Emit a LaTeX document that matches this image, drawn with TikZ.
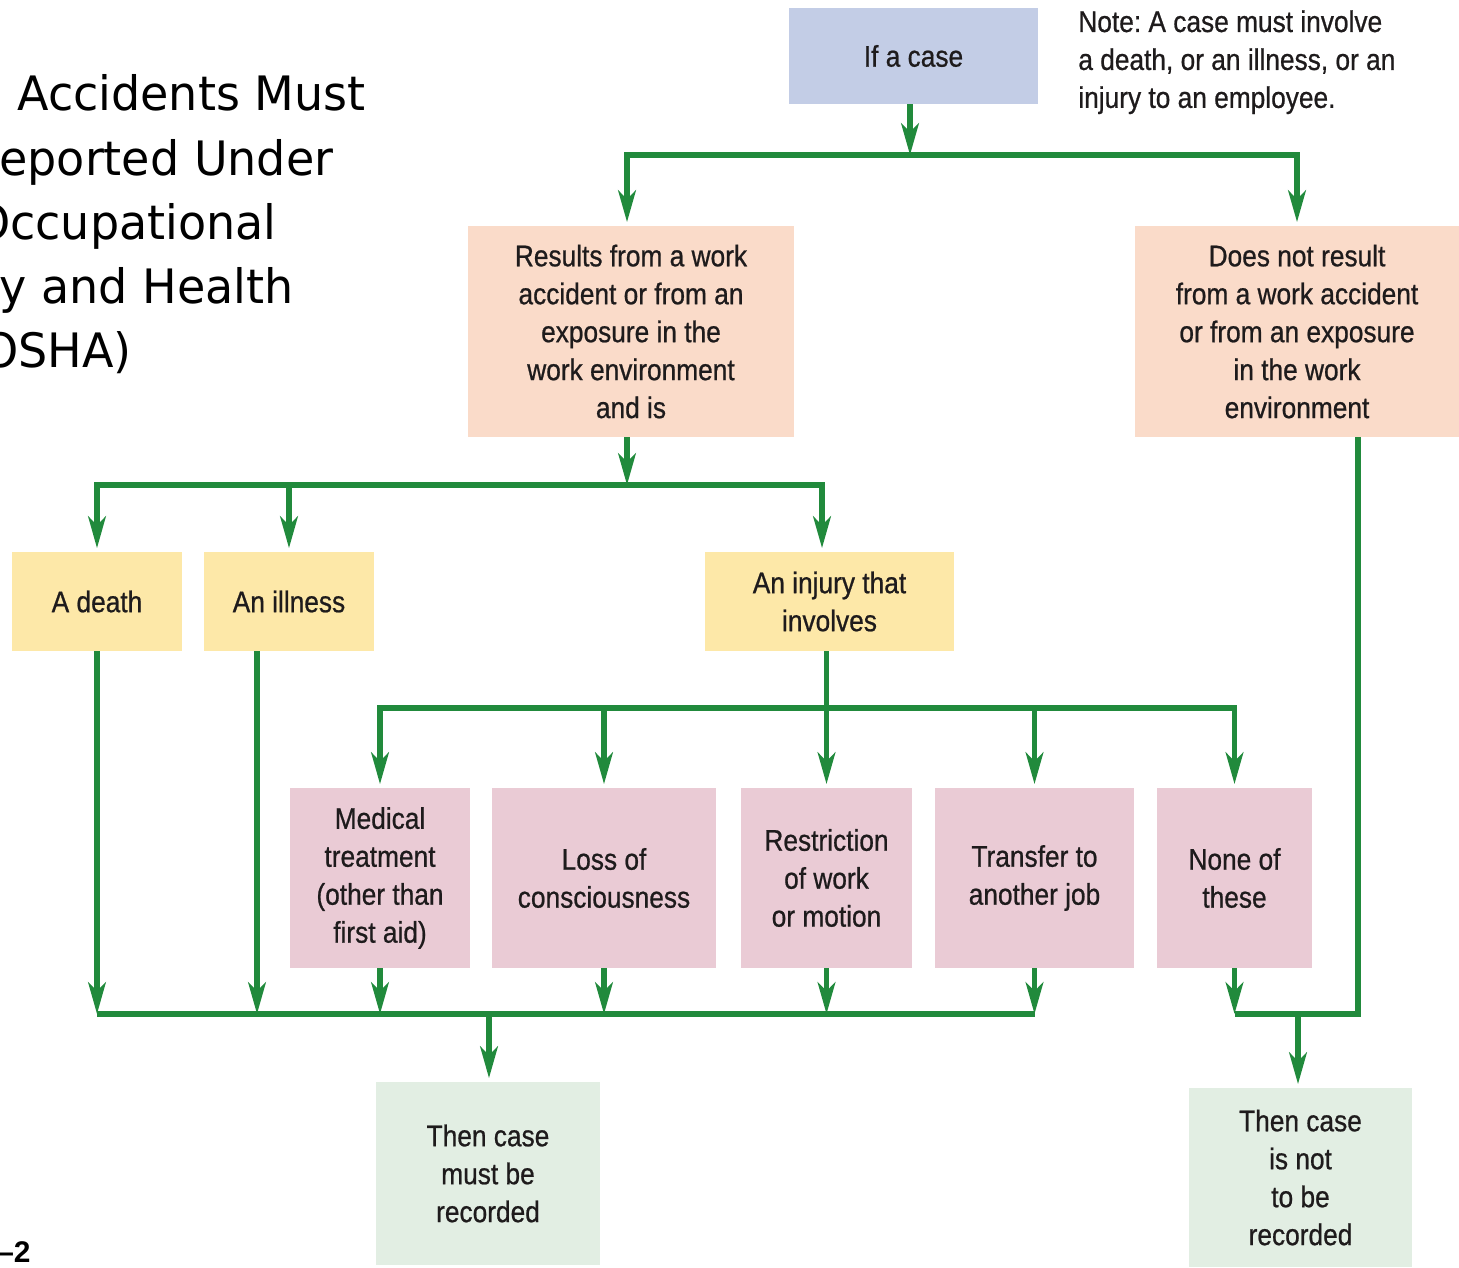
\documentclass[tikz,border=0pt]{standalone}
\usepackage{fontspec}
\setmainfont{Liberation Sans}
\newfontfamily\boxfont[FakeStretch=0.88, FakeBold=0.7]{Liberation Sans}
\newfontfamily\titlefont[FakeStretch=0.97]{DejaVu Sans}
\usetikzlibrary{arrows.meta}
\definecolor{flowgreen}{HTML}{218A3C}
\definecolor{caseblue}{HTML}{C3CDE6}
\definecolor{resultpeach}{HTML}{FADBC9}
\definecolor{kindyellow}{HTML}{FDE8A8}
\definecolor{injurypink}{HTML}{EACBD5}
\definecolor{recordgreen}{HTML}{E2EEE3}
\definecolor{inkgrey}{HTML}{1E1B1C}

\begin{document}
\begin{tikzpicture}[x=0.02cm, y=-0.02cm,
        box/.style={rectangle, inner sep=0pt, align=center, text=inkgrey,
          font=\boxfont\fontsize{17}{21.6}\selectfont},
        casebox/.style={box, fill=caseblue, minimum height=1.92cm},
        resultbox/.style={box, fill=resultpeach, minimum height=4.22cm},
        kindbox/.style={box, fill=kindyellow, minimum height=1.98cm},
        injbox/.style={box, fill=injurypink, minimum height=3.6cm},
        recbox/.style={box, fill=recordgreen},
        notetext/.style={inner sep=0pt, align=left, text=inkgrey,
          font=\boxfont\fontsize{17}{21.6}\selectfont\frenchspacing},
        titletext/.style={inner sep=0pt, anchor=base west, text=black,
          font=\titlefont\fontsize{27}{32}\selectfont},
        line/.style={draw=flowgreen, line width=3.1pt},
        arr/.style={line, -{Stealth[length=18pt, width=10pt, inset=5pt]}},
        boxarr/.style={arr, shorten >=2pt},
      ]

      \useasboundingbox (0,0) rectangle (1459,1267);
      \clip (0,0) rectangle (1459,1267);

      % Title (cut off at the left edge)
      \node[titletext] (t1) at (17,111) {Accidents Must};
      \node[titletext] (t2) at (-1,175) {eported Under};
      \node[titletext] (t3) at (10,239) {\llap{O}ccupational};
      \node[titletext] (t4) at (-1,303) {y and Health};
      \node[titletext] (t5) at (18,367) {\llap{O}SHA)};
      \node[inner sep=0pt, anchor=base west, font=\bfseries\fontsize{17}{20}\selectfont]
        (fig) at (-3,1262) {–2};

      % Top
      \node[casebox, minimum width=4.98cm] (ifcase) at (913.5,56) {If a case};
      \node[notetext, anchor=north west] (note) at (1078,10)
        {Note: A case must involve\\a death, or an illness, or an\\injury to an employee.};

      % Work related or not
      \node[resultbox, minimum width=6.52cm] (workres) at (631,331.5)
        {Results from a work\\accident or from an\\exposure in the\\work environment\\and is};
      \node[resultbox, minimum width=6.48cm] (notwork) at (1297,331.5)
        {Does not result\\from a work accident\\or from an exposure\\in the work\\environment};

      % Kind of case
      \node[kindbox, minimum width=3.4cm] (death) at (97,601.5) {A death};
      \node[kindbox, minimum width=3.4cm] (illness) at (289,601.5) {An illness};
      \node[kindbox, minimum width=4.98cm] (injury) at (829.5,601.5) {An injury that\\involves};

      % What the injury involves
      \node[injbox, minimum width=3.6cm] (medical) at (380,878)
        {Medical\\treatment\\(other than\\first aid)};
      \node[injbox, minimum width=4.48cm] (loss) at (604,878) {Loss of\\consciousness};
      \node[injbox, minimum width=3.42cm] (restrict) at (826.5,878)
        {Restriction\\of work\\or motion};
      \node[injbox, minimum width=3.98cm] (transfer) at (1034.5,878) {Transfer to\\another job};
      \node[injbox, minimum width=3.1cm] (none) at (1234.5,878) {None of\\these};

      % Outcome
      \node[recbox, minimum width=4.48cm, minimum height=3.66cm] (must) at (488,1173.5)
        {Then case\\must be\\recorded};
      \node[recbox, minimum width=4.46cm, minimum height=3.58cm] (notrec) at (1300.5,1177.5)
        {Then case\\is not\\to be\\recorded};

      % Junctions
      \coordinate (bus1) at (910,155);
      \coordinate (bus2) at (627,485);
      \coordinate (bus3) at (827,708);
      \coordinate (bus4) at (489,1014);
      \coordinate (bus5) at (1298,1014);
      \coordinate (illfoot) at ([xshift=-0.64cm]illness.south);
      \coordinate (notfoot) at ([xshift=1.22cm]notwork.south);

      % Connectors
      \draw[arr] ([xshift=-0.07cm]ifcase.south) -- ([xshift=-0.07cm]ifcase.south |- bus1);
      \draw[boxarr] (bus1) -| ([xshift=-0.08cm]workres.north);
      \draw[boxarr] (bus1) -| (notwork);

      \draw[arr] (bus2 |- workres.south) -- (bus2);
      \draw[boxarr] (bus2) -| (death);
      \draw[boxarr] (bus2) -| (illness);
      \draw[boxarr] (bus2) -| ([xshift=-0.15cm]injury.north);

      \draw[boxarr] (injury.south -| restrict) -- (restrict);
      \draw[boxarr] (bus3) -| (medical);
      \draw[boxarr] (bus3) -| (loss);
      \draw[boxarr] (bus3) -| (transfer);
      \draw[boxarr] (bus3) -| (none);

      \draw[arr] (death) -- (death |- bus4);
      \draw[arr] (illfoot) -- (illfoot |- bus4);
      \draw[arr] (medical) -- (medical |- bus4);
      \draw[arr] (loss) -- (loss |- bus4);
      \draw[arr] (restrict) -- (restrict |- bus4);
      \draw[arr] (transfer) -- (transfer |- bus4);
      \draw[line] (death |- bus4) -- (transfer |- bus4);
      \draw[boxarr] (bus4) -- (bus4 |- must.north);

      \draw[arr] (none) -- (none |- bus5);
      \draw[line] (notfoot) |- (none |- bus5);
      \draw[boxarr] (bus5) -- (bus5 |- notrec.north);

      \end{tikzpicture}
\end{document}
